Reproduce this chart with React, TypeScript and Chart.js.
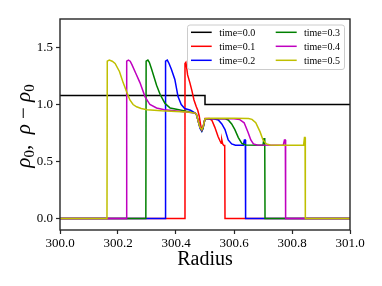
import React, { useEffect, useRef } from 'react';
import { Chart, registerables } from 'chart.js';
Chart.register(...registerables);

const seriesLabels = ['time=0.0', 'time=0.1', 'time=0.2', 'time=0.3', 'time=0.4', 'time=0.5'];
const seriesColors = ['#000000', '#ff0000', '#0000ff', '#008000', '#bf00bf', '#bfbf00'];

const r0 = [300.0, 300.5, 300.5, 301.0];
const v0 = [1.08, 1.08, 1.0, 1.0];

const r1 = [300.0, 300.430, 300.431, 300.434, 300.437, 300.440, 300.448, 300.455, 300.462, 300.470, 300.475, 300.480, 300.485, 300.489, 300.493, 300.500, 300.515, 300.524, 300.534, 300.545, 300.552, 300.556, 300.558, 300.561, 300.565, 300.568, 300.569, 301.0];
const v1 = [0, 0, 1.36, 1.37, 1.32, 1.26, 1.19, 1.12, 1.04, 0.98, 0.95, 0.90, 0.82, 0.78, 0.80, 0.877, 0.877, 0.86, 0.80, 0.72, 0.68, 0.66, 0.69, 0.655, 0.64, 0.64, 0, 0];

const r2 = [300.0, 300.363, 300.364, 300.370, 300.376, 300.384, 300.396, 300.407, 300.418, 300.430, 300.450, 300.466, 300.471, 300.477, 300.483, 300.489, 300.493, 300.500, 300.530, 300.546, 300.558, 300.569, 300.580, 300.592, 300.605, 300.632, 300.636, 300.639, 300.640, 301.0];
const v2 = [0, 0, 1.38, 1.39, 1.36, 1.31, 1.22, 1.07, 1.00, 0.965, 0.95, 0.925, 0.905, 0.85, 0.79, 0.765, 0.79, 0.875, 0.875, 0.865, 0.83, 0.78, 0.69, 0.655, 0.643, 0.643, 0.69, 0.69, 0, 0];

const r3 = [300.0, 300.296, 300.297, 300.303, 300.308, 300.316, 300.333, 300.345, 300.362, 300.380, 300.410, 300.466, 300.471, 300.477, 300.483, 300.489, 300.493, 300.500, 300.570, 300.580, 300.592, 300.603, 300.615, 300.627, 300.640, 300.700, 300.703, 300.706, 300.707, 301.0];
const v3 = [0, 0, 1.38, 1.39, 1.37, 1.31, 1.17, 1.09, 1.01, 0.97, 0.955, 0.925, 0.91, 0.85, 0.80, 0.77, 0.79, 0.875, 0.875, 0.865, 0.83, 0.78, 0.71, 0.66, 0.645, 0.643, 0.70, 0.70, 0, 0];

const r4 = [300.0, 300.229, 300.230, 300.236, 300.242, 300.248, 300.262, 300.276, 300.293, 300.310, 300.333, 300.360, 300.420, 300.466, 300.471, 300.477, 300.483, 300.489, 300.493, 300.500, 300.600, 300.620, 300.635, 300.648, 300.658, 300.667, 300.680, 300.770, 300.774, 300.777, 300.778, 301.0];
const v4 = [0, 0, 1.38, 1.39, 1.38, 1.35, 1.27, 1.19, 1.07, 1.00, 0.97, 0.955, 0.94, 0.925, 0.91, 0.85, 0.80, 0.775, 0.80, 0.875, 0.875, 0.868, 0.84, 0.76, 0.69, 0.655, 0.645, 0.643, 0.69, 0.69, 0, 0];

const r5 = [300.0, 300.162, 300.163, 300.170, 300.180, 300.190, 300.205, 300.218, 300.230, 300.241, 300.252, 300.264, 300.280, 300.300, 300.350, 300.400, 300.440, 300.466, 300.471, 300.477, 300.483, 300.489, 300.493, 300.500, 300.520, 300.600, 300.650, 300.662, 300.675, 300.690, 300.700, 300.712, 300.725, 300.760, 300.840, 300.843, 300.845, 300.846, 301.0];
const v5 = [0, 0, 1.38, 1.39, 1.38, 1.36, 1.29, 1.19, 1.11, 1.04, 1.00, 0.98, 0.965, 0.955, 0.945, 0.94, 0.935, 0.925, 0.91, 0.85, 0.80, 0.78, 0.80, 0.875, 0.88, 0.88, 0.878, 0.87, 0.84, 0.76, 0.69, 0.655, 0.645, 0.643, 0.643, 0.71, 0.71, 0, 0];

const radii = [r0, r1, r2, r3, r4, r5];
const values = [v0, v1, v2, v3, v4, v5];

const xTicks = [300.0, 300.2, 300.4, 300.6, 300.8, 301.0];
const yTicks = [0.0, 0.5, 1.0, 1.5];
const xMin = 300.0;
const xMax = 301.0;
const yMin = -0.1;
const yMax = 1.75;
const xTitle = 'Radius';

const SERIF = '"Liberation Serif", "DejaVu Serif", serif';
const SPINE = '#262626';

const decorPlugin = {
  id: 'decor',
  afterDraw(chart: any) {
    const ctx = chart.ctx as CanvasRenderingContext2D;
    const a = chart.chartArea;
    ctx.save();
    // spines
    ctx.strokeStyle = SPINE;
    ctx.lineWidth = 1.4;
    ctx.strokeRect(a.left, a.top, a.right - a.left, a.bottom - a.top);

    // x title
    ctx.fillStyle = '#000';
    ctx.font = `20px ${SERIF}`;
    ctx.textAlign = 'center';
    ctx.textBaseline = 'alphabetic';
    ctx.fillText(xTitle, (a.left + a.right) / 2, 264.5);

    // y title: rho_0, rho - rho_0
    const parts = [
      { t: 'ρ', f: `italic 21px ${SERIF}`, dy: 0 },
      { t: '0', f: `15px ${SERIF}`, dy: 4 },
      { t: ',  ', f: `21px ${SERIF}`, dy: 0 },
      { t: 'ρ', f: `italic 21px ${SERIF}`, dy: 0 },
      { t: ' − ', f: `21px ${SERIF}`, dy: 0 },
      { t: 'ρ', f: `italic 21px ${SERIF}`, dy: 0 },
      { t: '0', f: `15px ${SERIF}`, dy: 4 },
    ];
    let total = 0;
    const widths = parts.map((p) => {
      ctx.font = p.f;
      const w = ctx.measureText(p.t).width;
      total += w;
      return w;
    });
    ctx.save();
    ctx.translate(30, 126);
    ctx.rotate(-Math.PI / 2);
    ctx.textAlign = 'left';
    let x = -total / 2;
    parts.forEach((p, i) => {
      ctx.font = p.f;
      ctx.fillText(p.t, x, p.dy);
      x += widths[i];
    });
    ctx.restore();

    // legend
    const bx = 187.5, by = 25, bw = 157, bh = 44.5, rad = 2.5;
    ctx.beginPath();
    ctx.moveTo(bx + rad, by);
    ctx.lineTo(bx + bw - rad, by);
    ctx.quadraticCurveTo(bx + bw, by, bx + bw, by + rad);
    ctx.lineTo(bx + bw, by + bh - rad);
    ctx.quadraticCurveTo(bx + bw, by + bh, bx + bw - rad, by + bh);
    ctx.lineTo(bx + rad, by + bh);
    ctx.quadraticCurveTo(bx, by + bh, bx, by + bh - rad);
    ctx.lineTo(bx, by + rad);
    ctx.quadraticCurveTo(bx, by, bx + rad, by);
    ctx.closePath();
    ctx.fillStyle = 'rgba(255,255,255,0.8)';
    ctx.fill();
    ctx.strokeStyle = '#cccccc';
    ctx.lineWidth = 1;
    ctx.stroke();

    const cols = [
      { l0: 191, l1: 211.7, tx: 219.3 },
      { l0: 275.7, l1: 296.7, tx: 304 },
    ];
    const rows = [32.3, 46.3, 60.3];
    chart.data.datasets.forEach((ds: any, i: number) => {
      const c = cols[Math.floor(i / 3)];
      const ry = rows[i % 3];
      ctx.strokeStyle = ds.borderColor;
      ctx.lineWidth = 1.5;
      ctx.beginPath();
      ctx.moveTo(c.l0, ry);
      ctx.lineTo(c.l1, ry);
      ctx.stroke();
      ctx.fillStyle = '#000';
      ctx.font = `10px ${SERIF}`;
      ctx.textAlign = 'left';
      ctx.textBaseline = 'alphabetic';
      ctx.fillText(ds.label, c.tx, ry + 3.5);
    });
    ctx.restore();
  },
};

export default function App() {
  const ref = useRef<HTMLCanvasElement | null>(null);
  useEffect(() => {
    document.body.style.margin = '0';
    const canvas = ref.current;
    if (!canvas) return;
    const datasets = seriesLabels.map((label, i) => ({
      label,
      data: radii[i].map((r, j) => ({ x: r, y: values[i][j] })),
      borderColor: seriesColors[i],
      backgroundColor: seriesColors[i],
      borderWidth: 1.5,
      pointRadius: 0,
      fill: false,
      tension: 0,
      order: seriesLabels.length - i,
    }));
    const tickFont = { family: SERIF, size: 13 };
    const chart = new Chart(canvas, {
      type: 'line',
      data: { datasets },
      options: {
        animation: false,
        responsive: false,
        devicePixelRatio: 1,
        layout: { padding: { top: 19, right: 32, left: 0, bottom: 0 } },
        plugins: { legend: { display: false }, tooltip: { enabled: false }, title: { display: false } },
        scales: {
          x: {
            type: 'linear',
            min: xMin,
            max: xMax,
            afterBuildTicks: (s: any) => { s.ticks = xTicks.map((v) => ({ value: v })); },
            afterFit: (s: any) => { s.height = 56; },
            ticks: {
              callback: (v: any) => Number(v).toFixed(1),
              font: tickFont,
              color: '#000',
              padding: 2,
              maxRotation: 0,
              autoSkip: false,
            },
            grid: { drawOnChartArea: false, drawTicks: true, tickLength: 4, tickColor: SPINE, tickWidth: 1.2 },
            border: { display: false },
          },
          y: {
            type: 'linear',
            min: yMin,
            max: yMax,
            afterBuildTicks: (s: any) => { s.ticks = yTicks.map((v) => ({ value: v })); },
            afterFit: (s: any) => { s.width = 60; },
            ticks: {
              callback: (v: any) => Number(v).toFixed(1),
              font: tickFont,
              color: '#000',
              padding: 3,
              autoSkip: false,
            },
            grid: { drawOnChartArea: false, drawTicks: true, tickLength: 4, tickColor: SPINE, tickWidth: 1.2 },
            border: { display: false },
          },
        },
      } as any,
      plugins: [decorPlugin],
    });
    return () => chart.destroy();
  }, []);
  return (
    <div style={{ width: 382, height: 286 }}>
      <canvas ref={ref} width={382} height={286} style={{ display: 'block' }} />
    </div>
  );
}
